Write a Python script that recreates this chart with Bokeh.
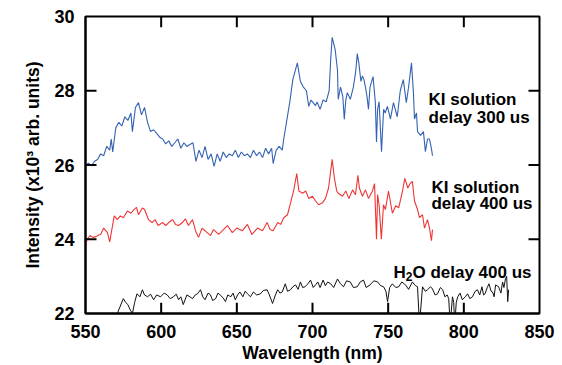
from bokeh.plotting import figure
from bokeh.models import Label, Range1d, FixedTicker
from bokeh.embed import file_html
from bokeh.resources import INLINE

# ---- data ----
x_ticks = [550, 600, 650, 700, 750, 800, 850]
y_ticks = [22, 24, 26, 28, 30]
x_min, x_max = 550, 850
y_min, y_max = 22, 30

ki300_pts = [(550,26.0),(552,26.05),(554,25.98),(556,26.1),(558,26.15),(560,26.3),(562,26.25),(564,26.5),(566,26.4),(567,26.7),(568,26.35),(570,27.0),(572,27.15),(574,27.05),(576,27.3),(578,27.2),(580,27.4),(581,26.9),(583,27.55),(585,27.68),(587,27.35),(589,27.55),(591,27.15),(593,26.9),(595,26.95),(597,26.85),(599,26.75),(601,26.7),(603,26.57),(605,26.65),(607,26.5),(609,26.6),(611,26.7),(613,26.45),(615,26.6),(617,26.5),(619,26.55),(621,26.6),(623,26.1),(625,26.4),(627,26.2),(629,26.5),(631,26.15),(633,26.3),(635,25.96),(637,26.3),(639,26.1),(641,26.35),(643,26.2),(645,26.3),(647,26.25),(649,26.4),(651,26.2),(653,26.35),(655,26.25),(657,26.3),(659,26.2),(661,26.4),(663,26.25),(665,26.35),(667,26.2),(669,26.45),(671,26.3),(673,26.45),(674,26.04),(676,26.4),(678,26.5),(680,26.4),(681,26.7),(683,27.2),(685,27.7),(687,28.3),(689,28.6),(690,28.75),(692,28.25),(694,28.1),(696,28.0),(697.5,27.58),(699,27.75),(700,27.7),(702,27.6),(703,27.7),(705,27.5),(707,27.75),(709,27.7),(710,27.85),(711,28.0),(712,28.83),(713,29.44),(715,29.1),(716.5,28.56),(717,27.77),(718.5,28.1),(720,27.85),(721,27.23),(722,27.75),(723,27.95),(725,27.77),(727,28.1),(728.5,28.5),(729.6,29.0),(730.6,28.75),(732,28.25),(733,28.4),(734,28.3),(735,28.1),(736,27.85),(737,27.5),(738,28.1),(740,28.38),(741.5,27.7),(742.3,26.62),(743,27.5),(744,27.7),(745.6,26.36),(747,27.5),(748,27.4),(749.5,27.58),(751.5,27.24),(753.5,27.68),(756,27.3),(758,28.0),(760,28.3),(762,27.68),(763.5,28.1),(765.4,28.75),(766.7,27.95),(767.4,27.24),(768.7,27.4),(769.4,26.9),(771.4,26.8),(773.3,26.9),(774.6,26.36),(776,26.7),(777.3,26.7),(778.6,26.44),(779.3,26.25)]

ki400_pts = [(550,23.75),(551,24.0),(553,24.1),(555,24.05),(557,24.07),(559,24.12),(560,24.13),(562,24.3),(564.5,24.18),(566,23.93),(568,24.4),(569,24.63),(571,24.53),(573,24.63),(575,24.58),(577.7,24.76),(580,24.7),(582,24.8),(583.7,24.86),(585,24.66),(587.6,24.84),(589,24.8),(591.6,24.53),(594,24.45),(596,24.53),(598,24.37),(601,24.45),(603,24.37),(605,24.45),(607.5,24.53),(609.5,24.4),(611.5,24.37),(614,24.45),(616,24.55),(618,24.37),(620.7,24.53),(622.7,24.23),(624.7,24.05),(627,24.3),(629,24.23),(632.6,24.1),(634.6,24.26),(638,24.13),(640.5,24.23),(643.8,24.37),(647,24.18),(650,24.3),(653.7,24.23),(657,24.4),(660,24.13),(663.6,24.3),(667,24.23),(670,24.45),(672,24.26),(674,24.23),(677,24.45),(679,24.4),(681,24.58),(683.5,24.66),(685.5,24.98),(687.5,25.3),(689.6,25.77),(691,25.3),(693.5,25.24),(695.5,25.3),(697.5,25.1),(700,25.16),(702,25.03),(704,24.93),(706.6,24.98),(708.6,25.1),(710.6,25.38),(712,25.83),(713,26.15),(714.5,25.64),(716,25.3),(717,25.24),(719.8,25.16),(722,25.3),(724,25.1),(726.5,25.33),(728.4,25.2),(730,25.72),(731,25.38),(733,25.16),(735,25.33),(737,25.1),(739.6,25.3),(741,25.5),(742.3,24.0),(743,25.2),(744,24.93),(745.5,24.0),(746.9,24.93),(748.2,24.8),(750.2,25.3),(752.8,24.7),(755,24.9),(757,24.85),(759.5,25.3),(761,25.64),(763,25.38),(764.5,25.5),(766,25.56),(767.4,25.03),(769.4,24.8),(770.7,24.58),(772.7,24.66),(774,24.3),(776,24.53),(777.3,24.3),(778.6,23.96),(779.3,24.26)]

h2o_pts = [(571,22.0),(573,22.2),(575,22.4),(576.5,22.3),(578,22.24),(579.5,22.1),(581,22.0),(582.5,22.3),(584,22.53),(586,22.45),(587.6,22.64),(589,22.5),(591,22.45),(593,22.52),(595,22.37),(597,22.5),(599.6,22.45),(602,22.55),(604,22.5),(606,22.4),(608,22.45),(610,22.52),(611.5,22.37),(613,22.45),(614.6,22.24),(617,22.5),(619,22.45),(620.7,22.4),(622.5,22.5),(624,22.53),(626,22.64),(627.5,22.45),(629,22.37),(631,22.55),(632.6,22.5),(634,22.35),(636,22.4),(637.5,22.55),(639,22.5),(641,22.42),(642.5,22.32),(644,22.5),(646,22.45),(647.5,22.55),(649,22.37),(650.5,22.5),(652,22.58),(654,22.45),(655.5,22.6),(657,22.53),(659,22.45),(661,22.58),(663,22.5),(665.6,22.53),(667.5,22.62),(670,22.64),(671.5,22.5),(673.6,22.27),(675.5,22.5),(677,22.64),(678.5,22.55),(680,22.58),(682,22.8),(683.5,22.6),(685.5,22.64),(687,22.72),(688.8,22.77),(690.5,22.65),(692,22.85),(693.5,22.7),(695,22.72),(697,22.8),(698.7,22.9),(700.5,22.7),(702,22.77),(703.5,22.85),(705,22.7),(707,22.9),(708.5,22.75),(710,22.85),(712,22.8),(714,22.7),(716.5,22.93),(718.5,22.8),(720.5,22.72),(722.5,22.88),(725,22.85),(727,22.7),(729.6,22.72),(731.5,22.85),(733.7,22.9),(735.5,22.7),(738,22.77),(740.5,22.88),(743,22.85),(745,22.75),(747,22.72),(748.5,22.6),(749.6,22.32),(751,22.7),(752.8,22.8),(755,22.7),(757,22.72),(759,22.85),(761.5,22.77),(763.5,22.65),(766,22.85),(768,22.75),(769.4,22.72),(770.7,21.7),(772.7,22.72),(774.5,22.6),(776,22.64),(778,22.72),(779.3,22.66),(781,22.5),(782.6,22.53),(784.5,22.7),(786,22.64),(787.5,22.45),(789,22.5),(790,22.4),(791,21.7),(792.5,22.45),(793.3,22.3),(794,21.7),(795,22.3),(796,22.45),(797.5,22.55),(799,22.37),(801,22.45),(802.5,22.53),(804,22.4),(805.7,22.45),(807.5,22.6),(809,22.64),(810.5,22.5),(812,22.72),(813,22.5),(814,22.53),(815.5,22.7),(816.6,22.8),(818,22.6),(819,22.58),(820,22.45),(821,22.77),(823,22.72),(824.5,22.55),(825.6,22.85),(826.5,22.7),(827.5,22.93),(828.3,23.0),(829,22.32),(829.6,22.64)]

FONT = "Liberation Sans"
FRAME_W, FRAME_H = 454, 301   # plot-area size in pixels
TICK_PX = 11                  # inward tick length in pixels
TICK_W = 2                    # tick thickness in pixels

p = figure(width=562, height=365, output_backend="svg", toolbar_location=None,
           x_range=Range1d(x_min, x_max), y_range=Range1d(y_min, y_max),
           min_border_left=85, min_border_right=23, min_border_top=16, min_border_bottom=48,
           background_fill_color="white", border_fill_color="white")
p.grid.visible = False
p.outline_line_color = "black"
p.outline_line_width = 2

for ax, ticks in ((p.xaxis[0], x_ticks), (p.yaxis[0], y_ticks)):
    ax.ticker = FixedTicker(ticks=ticks)
    ax.axis_line_width = 2
    ax.axis_line_color = "black"
    ax.major_tick_line_color = None
    ax.minor_tick_line_color = None
    ax.major_label_text_font = FONT
    ax.major_label_text_font_style = "bold"
    ax.major_label_text_color = "black"
    ax.major_label_text_font_size = "18px"
    ax.major_label_standoff = 5
    ax.axis_label_text_font = FONT
    ax.axis_label_text_font_style = "bold"
    ax.axis_label_text_font_size = "17.5px"
    ax.axis_label_text_color = "black"

p.xaxis[0].axis_label = "Wavelength (nm)"
p.xaxis[0].axis_label_standoff = 2
p.yaxis[0].axis_label = "Intensity (x10\u00b3 arb. units)"
p.yaxis[0].axis_label_standoff = 8

def series(pts):
    return [a for a, b in pts], [b for a, b in pts]

x1, y1 = series(ki300_pts)
x2, y2 = series(ki400_pts)
x3, y3 = series(h2o_pts)
p.line(x1, y1, line_color="#3462b2", line_width=1.1)
p.line(x2, y2, line_color="#ee3535", line_width=1.1)
p.line(x3, y3, line_color="#111111", line_width=1.0)

# inward tick marks on all four sides, drawn as thin filled boxes
ty = TICK_PX * (y_max - y_min) / FRAME_H
tx = TICK_PX * (x_max - x_min) / FRAME_W
hw_x = 0.5 * TICK_W * (x_max - x_min) / FRAME_W
hw_y = 0.5 * TICK_W * (y_max - y_min) / FRAME_H
inner_x = x_ticks[1:-1]
inner_y = y_ticks[1:-1]
left = [t - hw_x for t in inner_x] * 2 + [x_min] * len(inner_y) + [x_max - tx] * len(inner_y)
right = [t + hw_x for t in inner_x] * 2 + [x_min + tx] * len(inner_y) + [x_max] * len(inner_y)
bottom = [y_min] * len(inner_x) + [y_max - ty] * len(inner_x) + [t - hw_y for t in inner_y] * 2
top = [y_min + ty] * len(inner_x) + [y_max] * len(inner_x) + [t + hw_y for t in inner_y] * 2
p.quad(left=left, right=right, bottom=bottom, top=top,
       fill_color="black", line_color=None)

def lab(x, y, text, size="17px", xo=0, yo=0, align="left"):
    p.add_layout(Label(x=x, y=y, text=text, x_offset=xo, y_offset=yo,
                       text_font=FONT, text_font_style="bold", text_font_size=size,
                       text_color="black", text_align=align, text_baseline="alphabetic"))

lab(776.7, 27.767, "KI solution")
lab(776.7, 27.289, "delay 300 us")
lab(778.6, 25.402, "KI solution")
lab(778.6, 24.95, "delay 400 us")
lab(753.5, 23.116, "H")
lab(753.5, 23.116, "2", size="12px", xo=12.3, yo=-4)
lab(753.5, 23.116, "O delay 400 us", xo=19.0)

open("out.html", "w").write(file_html(p, INLINE))
